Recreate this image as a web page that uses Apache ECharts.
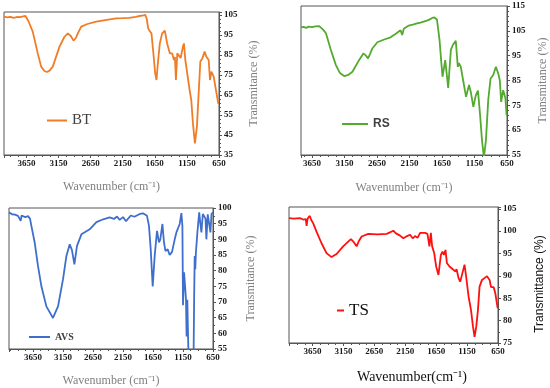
<!DOCTYPE html>
<html>
<head>
<meta charset="utf-8">
<script src="https://cdn.jsdelivr.net/npm/echarts@6/dist/echarts.min.js"></script>
<style>html,body{margin:0;padding:0;background:#fff}#c{width:550px;height:388px}</style>
</head>
<body>
<div id="c"></div>
<script>
// ---- DATA ----
const xTickLabels = [3650, 3150, 2650, 2150, 1650, 1150, 650];

const btWavenumber = [4000,3950,3900,3850,3800,3750,3700,3665,3620,3552,3474,3421,3370,3333,3290,3240,3135,3060,3006,2960,2917,2880,2850,2797,2700,2563,2400,2251,2150,2050,1950,1888,1830,1798,1775,1754,1730,1702,1670,1645,1624,1605,1572,1536,1494,1458,1415,1380,1352,1337,1321,1300,1274,1248,1212,1196,1175,1160,1134,1108,1082,1056,1025,994,967,941,910,874,848,811,790,769,733,702,660];
const btTransmittance = [104.2,103.8,104.1,103.6,104.0,103.9,104.3,104.5,102,96.7,85.8,79.2,77,76.5,77.2,79.2,89.2,94,95.8,94.5,92.2,93.5,95.8,99.2,100.5,101.7,102.6,103.3,103.4,103.6,104.1,104.5,104.8,105,103,98.3,97,95.8,85,76,72.5,80,90.8,95.8,97.2,90.8,85.8,85.8,82.5,84,72.5,85.8,85.8,83.5,89.2,90.8,82.5,79.2,78.3,67.5,62.5,50.8,40.8,49.2,65.8,81.7,83.3,86.7,84.2,82.5,72.5,76.7,74.2,68.3,60.5];

const rsWavenumber = [3820,3780,3740,3700,3650,3600,3540,3512,3480,3436,3360,3283,3220,3156,3090,3028,2927,2860,2820,2789,2760,2722,2645,2540,2442,2350,2289,2263,2238,2162,2100,2034,1980,1933,1860,1800,1769,1728,1688,1660,1642,1601,1575,1555,1514,1483,1468,1438,1407,1390,1361,1321,1280,1234,1208,1168,1130,1097,1066,1035,1005,974,939,903,862,821,786,760,740,709,675,656];
const rsTransmittance = [106.4,106.6,106.2,106.7,106.5,106.8,106.9,106.9,105.5,104,97.3,91.2,88,86.8,87.3,88.5,93.2,95.9,95,93.9,95.5,97.9,100.4,101.5,102.4,104,105.3,103.3,105.8,107.1,107.5,108,108.3,108.7,109.3,110.2,110.4,109.6,101.3,92,86.5,93.2,87,82,97.3,99.3,98.6,101,90.5,92,90.5,84.5,78.4,83.2,80.5,74.4,79,80.9,71.7,61,54,61,77.1,85.8,87.2,90.5,87.9,85,76.4,81.1,78,71];

const avsWavenumber = [4050,4000,3950,3900,3872,3855,3840,3780,3733,3700,3677,3622,3567,3510,3427,3317,3233,3150,3093,3038,3000,2960,2917,2843,2705,2593,2480,2372,2300,2250,2205,2150,2100,2067,2020,1960,1927,1870,1817,1750,1717,1688,1655,1622,1583,1550,1528,1493,1467,1443,1405,1372,1333,1288,1260,1232,1205,1177,1160,1150,1133,1115,1100,1090,1078,1065,1055,1010,975,965,955,945,935,910,880,860,843,820,790,775,760,738,718,693,675,660,650];
const avsTransmittance = [98.6,98,97.9,97.5,97.7,95.9,97.6,97.1,97.4,96.6,94.3,89,81.5,75,68.6,64.9,68.6,77.2,84.7,88.4,86.5,82,87.9,91.6,93.2,95.5,96.4,97,96.5,97.3,96.2,97.1,95.8,95.6,97.6,97.2,97.7,98.1,98.3,97.5,94.3,86.8,75,84.7,92.7,89,90,94.9,89,86.3,86.8,85,86,90,92.2,91.8,94.9,98.4,94.3,69,79.5,75,70.7,59,70.7,58.5,50,48,50,70,84.7,80.5,85.8,92.2,98.6,94.9,92.2,98.1,98,96.6,90,98,95.5,92.2,98.1,97.5,98.6];

const tsWavenumber = [4030,3950,3856,3800,3759,3745,3730,3694,3670,3640,3585,3504,3423,3342,3261,3154,3029,2985,2936,2900,2855,2748,2600,2450,2343,2300,2234,2180,2120,2072,2030,1991,1950,1910,1829,1791,1759,1736,1715,1682,1650,1613,1574,1548,1525,1499,1477,1434,1400,1342,1320,1288,1261,1230,1191,1164,1126,1087,1055,1029,1001,974,948,909,870,828,786,763,721,693,656];
const tsTransmittance = [102.9,102.8,102.9,102.6,102.7,101.2,102.8,103.4,102.5,101.8,99.9,97.3,95.1,94.2,94.9,96.6,98.2,97.6,96.6,97.8,98.8,99.4,99.3,99.4,100.1,99.5,99,98.4,98.9,99.2,98.4,98.9,98.5,99.6,99.6,99.4,96.6,99.6,96.6,95.1,92.1,90.2,94.7,95.4,94.7,95.8,92.9,92.1,91.7,91,91.5,89.5,88.7,90.4,92.5,89.7,85.4,82.4,78.7,76.4,78.7,82.4,87.6,89.1,89.5,89.9,89.1,87.5,87.5,86.1,82.8];

function pairs(xs, ys) { return xs.map((x, i) => [x, ys[i]]); }

// ---- CHART ----
const chart = echarts.init(document.getElementById('c'), null, {renderer: 'canvas'});
const axisCol = '#555';
const labelFont = {fontFamily: 'Liberation Serif', fontWeight: 'bold', fontSize: 9, color: '#1a1a1a'};

function xAx(gi, max, name, nameGap, nameStyle) {
  return {
    type: 'value', gridIndex: gi, min: 650, max: max, interval: 500, inverse: true,
    axisLine: {show: true, lineStyle: {color: axisCol, width: 1}},
    axisTick: {show: true, length: 3, lineStyle: {color: axisCol}},
    minorTick: {show: true, splitNumber: 4, length: 2, lineStyle: {color: axisCol}},
    splitLine: {show: false},
    axisLabel: Object.assign({margin: 4, formatter: v => xTickLabels.indexOf(v) >= 0 ? String(v) : ''}, labelFont),
    name: name, nameLocation: 'middle', nameGap: nameGap, nameTextStyle: nameStyle
  };
}
function yAx(gi, min, max, interval, name, nameGap, nameStyle, minorSplit) {
  return {
    type: 'value', gridIndex: gi, position: 'right', min: min, max: max, interval: interval,
    axisLine: {show: true, lineStyle: {color: axisCol, width: 1}},
    axisTick: {show: true, length: 3, lineStyle: {color: axisCol}},
    minorTick: {show: true, splitNumber: minorSplit, length: 2, lineStyle: {color: axisCol}},
    splitLine: {show: false},
    axisLabel: Object.assign({margin: 5, formatter: v => ((v - min) % interval === 0) ? String(v) : ''}, labelFont),
    name: name, nameLocation: 'middle', nameGap: nameGap, nameRotate: 90, nameTextStyle: nameStyle
  };
}
const greyName = {fontFamily: 'Liberation Serif', fontSize: 12, color: '#808080'};
const gridBase = {show: true, borderColor: axisCol, borderWidth: 1, backgroundColor: '#fff', containLabel: false};

function ser(name, xs, ys, idx, color) {
  return {
    name: name, type: 'line', xAxisIndex: idx, yAxisIndex: idx, data: pairs(xs, ys),
    showSymbol: false, symbol: 'none', clip: true,
    lineStyle: {color: color, width: 1.8}, itemStyle: {color: color}
  };
}
function leg(name, left, top, w, textStyle) {
  return {data: [name], left: left, top: top, padding: 0, icon: 'rect', itemWidth: w, itemHeight: 2,
          selectedMode: false, textStyle: textStyle};
}

chart.setOption({
  animation: false,
  backgroundColor: '#fff',
  grid: [
    Object.assign({left: 4, top: 12, width: 215, height: 143}, gridBase),
    Object.assign({left: 301, top: 6, width: 207, height: 149}, gridBase),
    Object.assign({left: 9, top: 208, width: 204, height: 141}, gridBase),
    Object.assign({left: 289, top: 207, width: 209, height: 136}, gridBase)
  ],
  xAxis: [
    xAx(0, 4000, 'Wavenumber (cm\u207B\u00B9)', 26, greyName),
    xAx(1, 3820, 'Wavenumber (cm\u207B\u00B9)', 27, greyName),
    xAx(2, 4050, 'Wavenumber (cm\u207B\u00B9)', 26, greyName),
    xAx(3, 4030, '', 30, greyName)
  ],
  yAxis: [
    yAx(0, 35, 106.5, 10, 'Transmitance (%)', 29, greyName, 5),
    yAx(1, 55, 115, 10, 'Transmitance (%)', 30, greyName, 5),
    yAx(2, 55, 100, 5, 'Transmitance (%)', 32, greyName, 2),
    yAx(3, 75, 105.4, 5, '', 40, greyName, 2)
  ],
  legend: [
    leg('BT', 47, 113, 20, {fontFamily: 'Liberation Serif', fontSize: 15, color: '#404040'}),
    leg('RS', 342, 118, 26, {fontFamily: 'Liberation Sans', fontWeight: 'bold', fontSize: 12, color: '#404040'}),
    leg('AVS', 29, 332, 21, {fontFamily: 'Liberation Serif', fontWeight: 'bold', fontSize: 10, color: '#404040'}),
    leg('TS', 337, 302, 7, {fontFamily: 'Liberation Serif', fontSize: 17, color: '#111'})
  ],
  graphic: [
    {type: 'text', x: 412, y: 377,
      style: {text: 'Wavenumber(cm\u207B\u00B9)', x: 0, y: 0, align: 'center', verticalAlign: 'middle',
      font: '14px "Liberation Serif"', fill: '#111'}},
    {type: 'text', x: 540, y: 284, rotation: Math.PI / 2,
      style: {text: 'Transmittance (%)', x: 0, y: 0, align: 'center', verticalAlign: 'middle',
      font: '12px "Liberation Sans"', fill: '#111'}}
  ],
  series: [
    ser('BT', btWavenumber, btTransmittance, 0, '#F07D26'),
    ser('RS', rsWavenumber, rsTransmittance, 1, '#53AA2E'),
    ser('AVS', avsWavenumber, avsTransmittance, 2, '#3F6FCC'),
    ser('TS', tsWavenumber, tsTransmittance, 3, '#FF1010')
  ]
});
</script>
</body>
</html>
